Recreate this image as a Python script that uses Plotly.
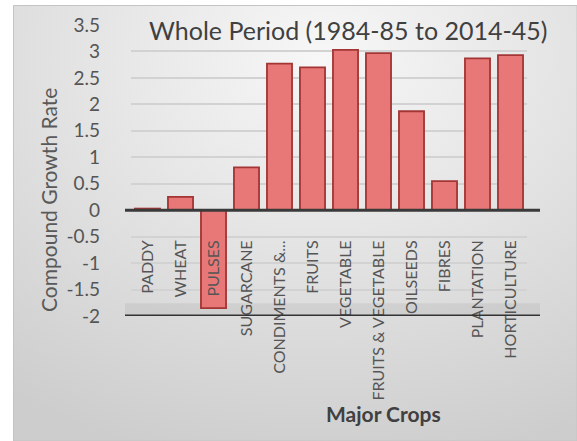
import base64
import plotly.graph_objects as go

# Compound growth rate by crop group, whole period
crops = ["PADDY", "WHEAT", "PULSES", "SUGARCANE", "CONDIMENTS &...", "FRUITS",
         "VEGETABLE", "FRUITS & VEGETABLE", "OILSEEDS", "FIBRES", "PLANTATION",
         "HORTICULTURE"]
growth = [0.03, 0.25, -1.85, 0.81, 2.77, 2.70, 3.03, 2.97, 1.87, 0.55, 2.87, 2.93]
y_ticks = [-2, -1.5, -1, -0.5, 0, 0.5, 1, 1.5, 2, 2.5, 3, 3.5]
y_tick_text = ["-2", "-1.5", "-1", "-0.5", "0", "0.5", "1", "1.5", "2", "2.5", "3", "3.5"]

W, H = 577, 441
L, R, T, B = 131, 50, 25, 125
y_min, y_max = -2, 3.5
pw, ph = W - L - R, H - T - B

def px_x(p):
    return (p - L) / pw

def px_y(p):
    return (H - B - p) / ph

FONT = "Lato"

# soft grey backdrop with a lighter glow near the top centre
svg = (
    '<svg xmlns="http://www.w3.org/2000/svg" width="564" height="436" preserveAspectRatio="none">'
    '<defs><radialGradient id="g" cx="0.55" cy="0.12" r="0.95">'
    '<stop offset="0" stop-color="#f7f7f7"/><stop offset="0.5" stop-color="#e2e2e2"/>'
    '<stop offset="1" stop-color="#cdcdcd"/></radialGradient>'
    '<linearGradient id="f" x1="0" y1="0" x2="0" y2="1">'
    '<stop offset="0" stop-color="#000" stop-opacity="0"/>'
    '<stop offset="1" stop-color="#000" stop-opacity="0"/></linearGradient></defs>'
    '<rect width="564" height="436" fill="url(#g)"/></svg>'
)
bg_src = "data:image/svg+xml;base64," + base64.b64encode(svg.encode()).decode()

fig = go.Figure()
fig.add_trace(go.Bar(
    x=crops, y=growth, width=0.76,
    marker=dict(color="#e87878", line=dict(color="#a33535", width=1.8)),
    hoverinfo="x+y",
))

zero_pos = (0 - y_min) / (y_max - y_min)

fig.update_layout(
    width=W, height=H,
    margin=dict(l=L, r=R, t=T, b=B),
    paper_bgcolor="white",
    plot_bgcolor="rgba(0,0,0,0)",
    showlegend=False,
    font=dict(family=FONT, color="#595959"),
    images=[dict(source=bg_src, xref="paper", yref="paper",
                 x=px_x(13), y=px_y(5), sizex=px_x(577) - px_x(13),
                 sizey=px_y(5) - px_y(441), xanchor="left", yanchor="top",
                 sizing="stretch", layer="below")],
    xaxis=dict(
        anchor="free", position=zero_pos,
        tickangle=-90, tickfont=dict(size=16, color="#555555"),
        showline=False, showgrid=False, ticks="",
        ticklabelstandoff=26,
    ),
    yaxis=dict(
        range=[y_min, y_max], tickvals=y_ticks, ticktext=y_tick_text,
        tickfont=dict(size=19, color="#555555"),
        showgrid=True, gridcolor="#d2d2d2", gridwidth=1.5,
        zeroline=False, showline=False, ticks="",
        ticklabelstandoff=30,
    ),
    annotations=[
        dict(text="Whole Period (1984-85 to 2014-45)", xref="paper", yref="paper",
             x=px_x(348), y=px_y(30), xanchor="center", yanchor="middle",
             showarrow=False, font=dict(size=25, color="#404040")),
        dict(text="Compound Growth Rate", xref="paper", yref="paper",
             x=px_x(48), y=px_y(200), xanchor="center", yanchor="middle",
             textangle=-90, showarrow=False,
             font=dict(size=21, color="#595959")),
        dict(text="<b>Major Crops</b>", xref="paper", yref="paper",
             x=px_x(383), y=px_y(413), xanchor="center", yanchor="middle",
             showarrow=False, font=dict(size=21, color="#404040")),
    ],
    shapes=[
        # chart frame
        dict(type="rect", xref="paper", yref="paper", x0=px_x(13.5), x1=px_x(577),
             y0=px_y(441), y1=px_y(5.5), line=dict(color="#c4c4c4", width=1),
             layer="below"),
        # floor shading of the 3D plot base
        dict(type="rect", xref="paper", yref="y", x0=px_x(125), x1=px_x(540),
             y0=y_min, y1=y_min + 0.24, fillcolor="rgba(150,150,150,0.18)",
             line=dict(width=0), layer="below"),
        # base line at the floor
        dict(type="line", xref="paper", yref="y", x0=px_x(125), x1=px_x(540),
             y0=y_min, y1=y_min, line=dict(color="#333333", width=3)),
        # zero line
        dict(type="line", xref="paper", yref="y", x0=px_x(125), x1=px_x(540),
             y0=0, y1=0, line=dict(color="#3a3a3a", width=3)),
    ],
)

fig.write_html("out.html")
